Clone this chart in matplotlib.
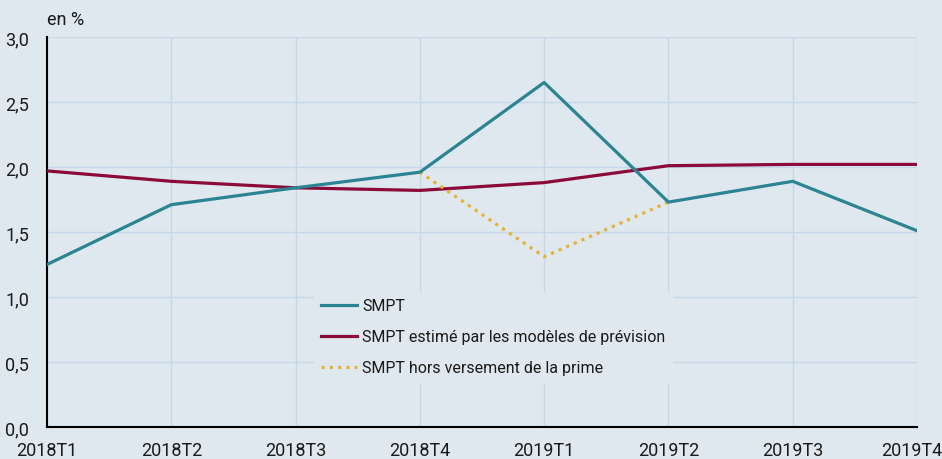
import numpy as np
import matplotlib.pyplot as plt
from matplotlib.transforms import ScaledTranslation

plt.rcParams['font.family'] = ['Roboto', 'DejaVu Sans']

quarters = ["2018T1", "2018T2", "2018T3", "2018T4", "2019T1", "2019T2", "2019T3", "2019T4"]
smpt = [1.25, 1.71, 1.84, 1.96, 2.65, 1.73, 1.89, 1.51]
smpt_prev = [1.97, 1.89, 1.84, 1.82, 1.88, 2.01, 2.02, 2.02]
hors_prime_x = ["2018T4", "2019T1", "2019T2"]
hors_prime = [1.96, 1.31, 1.73]

bg = "#dfe8ee"
grid = "#c6d7ea"
txt = "#1a1a1a"

fig = plt.figure(figsize=(9.42, 4.59), dpi=100, facecolor=bg)
ax = fig.add_axes([47/942, 32/459, 870/942, 390/459], facecolor=bg)

x = np.arange(len(quarters))
xh = [quarters.index(q) for q in hors_prime_x]

ax.plot(x, smpt_prev, color="#8c0a3a", lw=2.3, label="SMPT estimé par les modèles de prévision", zorder=3)
ax.plot(xh, hors_prime, color="#e8b230", lw=2.3, linestyle=(0, (1, 1.6)),
        label="SMPT hors versement de la prime", zorder=4)
ax.plot(x, smpt, color="#2b8494", lw=2.3, label="SMPT", zorder=5)

ax.set_xlim(0, len(quarters) - 1)
ax.set_ylim(0, 3.0)
yt = np.arange(0, 3.01, 0.5)
ax.set_yticks(yt)
ax.set_yticklabels([f"{v:.1f}".replace(".", ",") for v in yt], fontsize=13, color=txt)
ax.set_xticks(x)
ax.set_xticklabels(quarters, fontsize=13, color=txt)
ax.tick_params(axis="y", length=0, pad=13)
ax.tick_params(axis="x", length=0, pad=11)
for t in ax.get_yticklabels():
    t.set_verticalalignment("center")
    t.set_transform(t.get_transform() + ScaledTranslation(0, -3/100, fig.dpi_scale_trans))
last = ax.get_xticklabels()[-1]
last.set_transform(last.get_transform() + ScaledTranslation(-5/100, 0, fig.dpi_scale_trans))

ax.grid(True, color=grid, lw=1)
ax.set_axisbelow(True)
for s in ["top", "right"]:
    ax.spines[s].set_visible(False)
for s in ["left", "bottom"]:
    ax.spines[s].set_color("black")
    ax.spines[s].set_linewidth(1.5)

h, l = ax.get_legend_handles_labels()
order = [2, 0, 1]
leg = ax.legend([h[i] for i in order], [l[i] for i in order], loc="lower left",
                bbox_to_anchor=(0.298, 0.095), frameon=True, fontsize=11.5,
                handlelength=2.3, handletextpad=0.3, labelspacing=1.0)
for t in leg.get_texts():
    t.set_color(txt)
leg.get_frame().set_facecolor(bg)
leg.get_frame().set_edgecolor(bg)
leg.get_frame().set_alpha(1)
leg.get_frame().set_boxstyle("square", pad=0)

fig.text(47/942, 1 - 20/459, "en %", fontsize=13, va="center", ha="left", color=txt)

fig.savefig("out.png", dpi=100, facecolor=bg)
